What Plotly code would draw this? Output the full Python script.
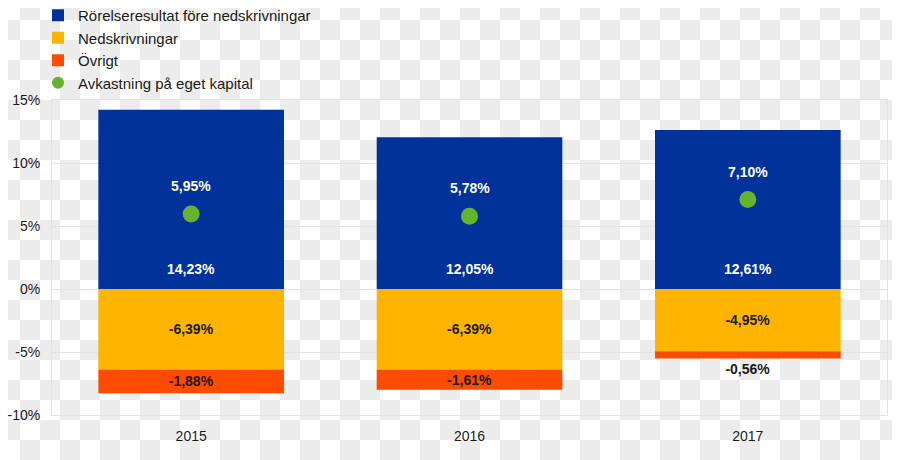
import plotly.graph_objects as go

years = ["2015", "2016", "2017"]
operating = [14.23, 12.05, 12.61]
impairments = [-6.39, -6.39, -4.95]
other = [-1.88, -1.61, -0.56]
roe = [5.95, 5.78, 7.10]

y_ticks = [15, 10, 5, 0, -5, -10]
y_ticktext = ["15%", "10%", "5%", "0%", "-5%", "-10%"]

names = ["Rörelseresultat före nedskrivningar", "Nedskrivningar", "Övrigt",
         "Avkastning på eget kapital"]

BLUE = "#003299"
YELLOW = "#ffb400"
ORANGE = "#ff4b00"
GREEN = "#65b32e"
FONT = "Liberation Sans, Arial, sans-serif"

# the page keeps its default 8px body margin, so the figure is drawn
# 8px smaller and offset so the plot lands where the reference has it
OFF = 8
W, H = 900 - OFF, 460 - OFF
ML, MR, MT, MB = 52 - OFF, 13, 100 - OFF, 45
pw, ph = W - ML - MR, H - MT - MB


def fmt(v):
    return f"{v:.2f}".replace(".", ",") + "%"


# fake transparency checkerboard (20px cells, aligned to the window)
cell = 20
parts = []
for r in range(460 // cell + 1):
    for c in range(900 // cell + 1):
        if (r + c) % 2 == 1:
            x0 = (c * cell - OFF - ML) / pw
            x1 = ((c + 1) * cell - OFF - ML) / pw
            y0 = 1 - (r * cell - OFF - MT) / ph
            y1 = 1 - ((r + 1) * cell - OFF - MT) / ph
            parts.append(f"M{x0:.5f},{y0:.5f}L{x1:.5f},{y0:.5f}L{x1:.5f},{y1:.5f}L{x0:.5f},{y1:.5f}Z")
checker_path = "".join(parts)

fig = go.Figure()

fig.add_trace(go.Bar(x=years, y=operating, name=names[0], marker_color=BLUE,
                     marker_line_width=0))
fig.add_trace(go.Bar(x=years, y=impairments, name=names[1], marker_color=YELLOW,
                     marker_line_width=0,
                     text=[fmt(v) for v in impairments], textposition="inside",
                     insidetextanchor="middle", textangle=0, constraintext="none",
                     textfont=dict(family=FONT, size=14, color="#1a1a1a", weight="bold")))
fig.add_trace(go.Bar(x=years, y=other, name=names[2], marker_color=ORANGE,
                     marker_line_width=0,
                     text=[fmt(v) for v in other],
                     textposition=["inside", "inside", "outside"],
                     insidetextanchor="middle", textangle=0, constraintext="none",
                     textfont=dict(family=FONT, size=14, color="#1a1a1a", weight="bold")))
fig.add_trace(go.Scatter(x=years, y=roe, name=names[3], mode="markers",
                         marker=dict(color=GREEN, size=17)))

# category axis: annotations are placed by category index
for i, v in enumerate(operating):
    fig.add_annotation(x=i, y=0, yshift=20, text=fmt(v), showarrow=False,
                       font=dict(family=FONT, size=14, color="white", weight="bold"))
for i, v in enumerate(roe):
    fig.add_annotation(x=i, y=v, yshift=28, text=fmt(v), showarrow=False,
                       font=dict(family=FONT, size=14, color="white", weight="bold"))

fig.add_shape(type="path", path=checker_path, xref="paper", yref="paper",
              fillcolor="#ececec", line_width=0, layer="below")

fig.update_layout(
    width=W, height=H,
    margin=dict(l=ML, r=MR, t=MT, b=MB, autoexpand=False),
    barmode="relative", bargap=0.333,
    paper_bgcolor="white", plot_bgcolor="rgba(0,0,0,0)",
    font=dict(family=FONT, size=14, color="#1a1a1a"),
    legend=dict(x=(38 - OFF - ML) / pw, y=1 + (MT + 9) / ph,
                xanchor="left", yanchor="top", traceorder="normal",
                bgcolor="rgba(0,0,0,0)", itemsizing="constant",
                font=dict(family=FONT, size=15, color="#1a1a1a")),
    showlegend=True,
)
fig.update_xaxes(type="category", range=[-0.5, len(years) - 0.5],
                 showgrid=False, showline=True,
                 linecolor="#e3e3e3", mirror=True,
                 ticks="", ticklabelstandoff=8, zeroline=False)
fig.update_yaxes(range=[-10, 15], tickvals=y_ticks, ticktext=y_ticktext,
                 showgrid=True, gridcolor="#e3e3e3", showline=True,
                 linecolor="#e3e3e3", mirror=True, zeroline=False,
                 ticks="", ticklabelstandoff=8)

fig.write_html("out.html", config={"displayModeBar": False})
